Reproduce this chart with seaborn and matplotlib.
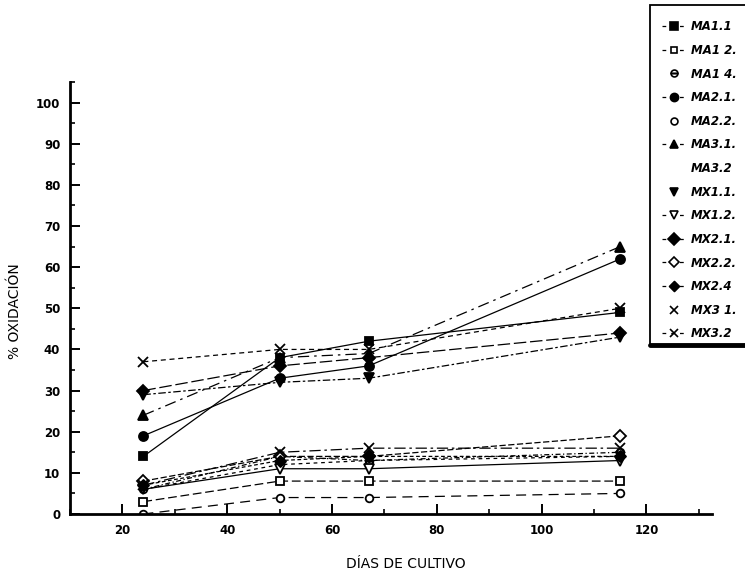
import numpy as np
import pandas as pd
import matplotlib
matplotlib.use("Agg")
import matplotlib.pyplot as plt
from matplotlib.patches import Rectangle
from matplotlib.lines import Line2D
import seaborn as sns

# Sampling days (x) and oxidation percentage per culture line
days = [24, 50, 67, 115]

labels = ["MA1.1", "MA1 2.", "MA1 4.", "MA2.1.", "MA2.2.", "MA3.1.", "MA3.2",
          "MX1.1.", "MX1.2.", "MX2.1.", "MX2.2.", "MX2.4", "MX3 1.", "MX3.2"]

ma1_1 = [14, 38, 42, 49]
ma1_2 = [3, 8, 8, 8]
ma1_4 = [6, 14, 13, 15]
ma2_1 = [19, 33, 36, 62]
ma2_2 = [0, 4, 4, 5]
ma3_1 = [24, 38, 39, 65]
ma3_2 = [6, 12, 13, 14]
mx1_1 = [29, 32, 33, 43]
mx1_2 = [6, 11, 11, 13]
mx2_1 = [30, 36, 38, 44]
mx2_2 = [8, 14, 14, 19]
mx2_4 = [7, 13, 14, 14]
mx3_1 = [37, 40, 40, 50]
mx3_2 = [7, 15, 16, 16]

series = [ma1_1, ma1_2, ma1_4, ma2_1, ma2_2, ma3_1, ma3_2,
          mx1_1, mx1_2, mx2_1, mx2_2, mx2_4, mx3_1, mx3_2]

# Long-form table for seaborn
df = pd.DataFrame({
    "dias": np.tile(days, len(labels)),
    "oxidacion": np.concatenate(series),
    "linea": np.repeat(labels, len(days)),
})

# marker, face colour, marker size, dash pattern (None = solid), show line in key
styles = {
    "MA1.1":  dict(marker="s", mfc="black", ms=6, dash=None, key_line=True),
    "MA1 2.": dict(marker="s", mfc="white", ms=5.5, dash=(7, 3), key_line=True),
    "MA1 4.": dict(marker="o", mfc="white", ms=5.5, dash=(4, 2, 1, 2), key_line=False, fill="top"),
    "MA2.1.": dict(marker="o", mfc="black", ms=6.5, dash=None, key_line=True),
    "MA2.2.": dict(marker="o", mfc="white", ms=5.5, dash=(8, 5), key_line=False),
    "MA3.1.": dict(marker="^", mfc="black", ms=7, dash=(9, 4, 2, 4), key_line=True),
    "MA3.2":  dict(marker="None", mfc="white", ms=0, dash=(3, 3), key_line=False),
    "MX1.1.": dict(marker="v", mfc="black", ms=7, dash=(6, 2, 2, 2), key_line=False),
    "MX1.2.": dict(marker="v", mfc="white", ms=7, dash=None, key_line=True),
    "MX2.1.": dict(marker="D", mfc="black", ms=6.5, dash=(10, 3), key_line=True),
    "MX2.2.": dict(marker="D", mfc="white", ms=6, dash=(5, 2), key_line=True),
    "MX2.4":  dict(marker="$\u25C8$", mfc="black", ms=8, dash=(3, 2), key_line=True),
    "MX3 1.": dict(marker="x", mfc="black", ms=7, dash=(4, 3), key_line=False),
    "MX3.2":  dict(marker="x", mfc="black", ms=7, dash=(9, 3, 2, 3), key_line=True),
}

sns.set_theme(style="ticks")
plt.rcParams["font.family"] = ["DejaVu Sans"]
plt.rcParams["xtick.direction"] = "in"
plt.rcParams["ytick.direction"] = "in"
plt.rcParams["text.color"] = "black"
plt.rcParams["axes.labelcolor"] = "black"
plt.rcParams["xtick.color"] = "black"
plt.rcParams["ytick.color"] = "black"

fig = plt.figure(figsize=(7.45, 5.78), dpi=100)
ax = fig.add_axes([70 / 745, 1 - 514 / 578, (712 - 70) / 745, (514 - 82) / 578])

handles = []
for lab in labels:
    st = styles[lab]
    sub = df[df["linea"] == lab]
    kws = dict(color="black", lw=0.9, marker=st["marker"], markersize=st["ms"],
               markerfacecolor=st["mfc"], markeredgecolor="black",
               markeredgewidth=1.3, fillstyle=st.get("fill", "full"))
    if st["dash"] is not None:
        kws["dashes"] = st["dash"]
    sns.lineplot(data=sub, x="dias", y="oxidacion", ax=ax, legend=False,
                 estimator=None, sort=False, **kws)
    h = Line2D([], [], color="black", lw=0.9 if st["key_line"] else 0,
               marker=st["marker"], markersize=st["ms"] * 0.9,
               markerfacecolor=st["mfc"], markeredgecolor="black",
               markeredgewidth=1.2, fillstyle=st.get("fill", "full"),
               linestyle=(0, (3, 4)) if st["key_line"] else "None")
    handles.append(h)

ax.set_xlim(10, 132.5)
ax.set_ylim(0, 105)
ax.set_xticks([20, 40, 60, 80, 100, 120])
ax.set_xticks(np.arange(10, 131, 10), minor=True)
ax.set_yticks(np.arange(0, 101, 10))
ax.set_yticks(np.arange(0, 106, 5), minor=True)
ax.tick_params(which="major", length=7, width=1.4, labelsize=8.5, pad=7)
ax.tick_params(which="minor", length=3.5, width=1.2)
for t in ax.get_xticklabels() + ax.get_yticklabels():
    t.set_fontweight("bold")
sns.despine(ax=ax)
for s in ("left", "bottom"):
    ax.spines[s].set_linewidth(2)
    ax.spines[s].set_color("black")

ax.set_xlabel("DÍAS DE CULTIVO", fontsize=10, color="black")
ax.set_ylabel("% OXIDACIÓN", fontsize=10, color="black")
ax.xaxis.set_label_coords((406 - 70) / (712 - 70), -0.1)
ax.yaxis.set_label_coords(-0.075, 1 - (311 - 82) / (514 - 82))

# Key box at the upper right, running off the figure edge
fig.patches.append(Rectangle((650 / 745, 1 - 345 / 578), 0.2, 340 / 578,
                             transform=fig.transFigure, fill=False,
                             edgecolor="black", lw=1.3))
fig.lines.append(Line2D([650 / 745, 1.0], [1 - 345 / 578, 1 - 345 / 578],
                        transform=fig.transFigure, color="black", lw=3.5))
leg = fig.legend(handles, labels, loc="upper left",
                 bbox_to_anchor=(654 / 745, 1 - 12 / 578),
                 frameon=False, handlelength=2.0, handletextpad=0.4,
                 labelspacing=0.9, borderpad=0.2,
                 prop=dict(size=8.5, weight="bold", style="italic"))
for txt in leg.get_texts():
    txt.set_color("black")

fig.savefig("out.png", dpi=100)
